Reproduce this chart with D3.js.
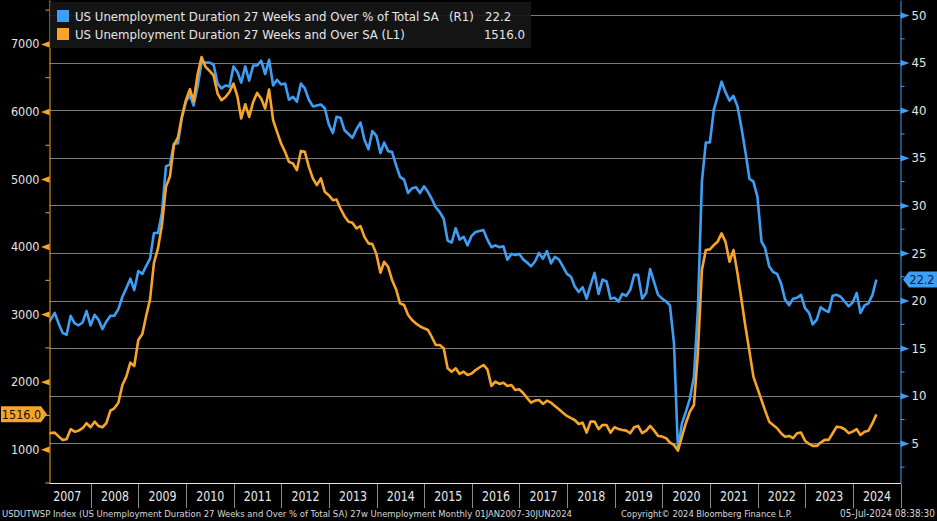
<!DOCTYPE html>
<html>
<head>
<meta charset="utf-8">
<script src="https://d3js.org/d3.v7.min.js"></script>
<style>
  body { margin: 0; background: #000; }
  svg { display: block; }
  text { font-family: "DejaVu Sans Condensed", "DejaVu Sans", sans-serif; }
</style>
</head>
<body>
<svg id="chart" width="937" height="521"></svg>
<script>
// monthly, Jan 2007 .. Jun 2024
var years = [2007, 2008, 2009, 2010, 2011, 2012, 2013, 2014, 2015, 2016, 2017, 2018, 2019, 2020, 2021, 2022, 2023, 2024];

// USDUTWSP - 27 weeks and over, % of total unemployed (right axis)
var pctOfTotal = [
  17.5, 18.0, 18.7, 17.6, 16.6, 16.4, 18.4, 17.6, 17.4, 17.7, 18.9, 17.4,
  18.5, 18.0, 17.0, 17.8, 18.4, 18.4, 19.1, 20.4, 21.3, 22.3, 21.1, 23.1,
  22.8, 23.6, 24.4, 27.1, 27.1, 29.2, 34.1, 34.3, 36.5, 36.5, 39.2, 40.9,
  41.6, 40.5, 42.5, 45.0, 45.0, 45.0, 44.8, 42.8, 42.3, 42.6, 42.5, 44.6,
  44.0, 42.9, 44.6, 43.1, 44.7, 44.7, 45.2, 43.8, 45.3, 42.6, 43.2, 42.7,
  42.8, 41.1, 41.4, 40.9, 42.8, 42.3, 41.1, 40.4, 40.5, 40.6, 40.2, 38.5,
  37.6, 39.3, 39.2, 37.9, 37.5, 37.1, 38.0, 38.7, 36.9, 35.9, 37.8, 37.3,
  35.5, 36.6, 35.7, 35.6, 34.2, 33.0, 32.7, 31.3, 31.8, 31.9, 31.3, 32.0,
  31.4, 30.7, 29.8, 29.3, 28.6, 26.3, 26.1, 27.6, 26.4, 26.7, 25.8, 26.8,
  27.2, 27.3, 27.4, 26.4, 25.6, 25.8, 25.6, 25.7, 24.3, 24.9, 24.8, 24.9,
  24.3, 24.0, 23.6, 24.1, 25.0, 24.4, 25.2, 23.9, 24.6, 24.3, 23.6, 22.8,
  22.5, 21.5, 20.9, 21.4, 20.2, 21.6, 22.9, 20.7, 22.2, 22.0, 20.2, 20.3,
  19.9, 20.7, 20.5, 21.1, 22.7, 22.7, 20.2, 20.8, 23.3, 21.9, 20.6, 20.2,
  19.9, 19.5, 15.5, 4.4, 7.1, 8.3, 9.7, 12.0, 19.0, 32.5, 36.6, 36.6,
  40.1, 41.4, 43.0, 41.9, 41.0, 41.5, 40.4, 38.1, 35.6, 32.8, 32.5, 30.9,
  26.2, 25.5, 23.6, 23.0, 22.8, 21.8, 20.1, 19.5, 20.2, 20.3, 20.6, 19.2,
  18.7, 17.5, 18.0, 19.3, 19.0, 18.8, 20.5, 20.6, 20.4, 19.9, 19.4, 19.8,
  20.8, 18.7, 19.5, 19.7, 20.6, 22.2
];

// 27 weeks and over, thousands (left axis)
var weeks27Over = [
  1225, 1240, 1246, 1190, 1138, 1148, 1296, 1260, 1275, 1311, 1385, 1325,
  1408, 1345, 1325, 1385, 1571, 1606, 1689, 1951, 2074, 2281, 2232, 2616,
  2705, 2961, 3218, 3760, 3973, 4317, 4884, 5042, 5501, 5615, 5920, 6166,
  6330, 6150, 6550, 6807, 6659, 6600, 6536, 6265, 6166, 6215, 6289, 6413,
  6215, 5896, 6107, 5919, 6141, 6274, 6191, 6043, 6324, 5870, 5697, 5526,
  5400, 5254, 5230, 5131, 5416, 5402, 5180, 5008, 4909, 5008, 4810, 4761,
  4687, 4697, 4560, 4450, 4366, 4351, 4269, 4303, 4144, 4047, 4036, 3888,
  3612, 3775, 3701, 3504, 3366, 3159, 3134, 2986, 2912, 2860, 2820, 2790,
  2764, 2665, 2543, 2543, 2494, 2198, 2148, 2198, 2114, 2148, 2099, 2120,
  2173, 2210, 2247, 2183, 1936, 2000, 1966, 1985, 1936, 1951, 1877, 1887,
  1828, 1760, 1689, 1719, 1729, 1670, 1719, 1689, 1640, 1591, 1541, 1493,
  1460, 1433, 1374, 1393, 1246, 1408, 1408, 1296, 1359, 1359, 1246, 1325,
  1300, 1285, 1275, 1237, 1325, 1345, 1237, 1275, 1345, 1275, 1197, 1187,
  1163, 1098, 1064, 979, 1187, 1385, 1556, 1655, 2420, 3652, 3948, 3958,
  4022, 4070, 4195, 4070, 3775, 3948, 3603, 3208, 2813, 2444, 2074, 1900,
  1729, 1571, 1408, 1359, 1311, 1237, 1186, 1197, 1163, 1237, 1246, 1127,
  1078, 1049, 1049, 1098, 1138, 1138, 1237, 1334, 1325, 1296, 1237, 1260,
  1296, 1211, 1260, 1275, 1385, 1516
];

var leftTicks = [1000, 2000, 3000, 4000, 5000, 6000, 7000];
var leftMinor = [500, 1500, 2500, 3500, 4500, 5500, 6500, 7500];
var rightTicks = [5, 10, 15, 20, 25, 30, 35, 40, 45, 50];
var rightMinor = [2.5, 7.5, 12.5, 17.5, 22.5, 27.5, 32.5, 37.5, 42.5, 47.5];

var legendPct = "US Unemployment Duration 27 Weeks and Over % of Total SA";
var legendCount = "US Unemployment Duration 27 Weeks and Over SA (L1)";
var footerLeft = "USDUTWSP Index (US Unemployment Duration 27 Weeks and Over % of Total SA) 27w Unemployment  Monthly 01JAN2007-30JUN2024";
var footerMid = "Copyright\u00a9 2024 Bloomberg Finance L.P.";
var footerRight = "05-Jul-2024 08:38:30";

var BLUE = "#3e9ef4", ORANGE = "#f8a42a";
var W = 937, H = 521;
var plotLeft = 49.5, plotRight = 900.5, plotTop = 0, plotBottom = 483;

var svg = d3.select("#chart");
svg.append("rect").attr("width", W).attr("height", H).attr("fill", "#000");

// points sit at month end
var dates = pctOfTotal.map(function(d, i) { return new Date(2007, i + 1, 0); });

var x = d3.scaleTime().domain([new Date(2007, 1, 19), new Date(2025, 0, 1)]).range([plotLeft, plotRight]);
var yL = d3.scaleLinear().domain([500, 7650]).range([plotBottom, plotTop]);
var yR = d3.scaleLinear().domain([0.83, 51.58]).range([plotBottom, plotTop]);

function fit(sel, w) {
  var n = sel.node().getComputedTextLength();
  var fs = parseFloat(sel.attr("font-size"));
  sel.attr("font-size", (fs * w / n).toFixed(2));
  return sel;
}

// grid (follows right axis)
svg.append("g").selectAll("line").data(rightTicks).join("line")
  .attr("x1", plotLeft).attr("x2", plotRight)
  .attr("y1", function(d) { return Math.round(yR(d)) + 0.5; })
  .attr("y2", function(d) { return Math.round(yR(d)) + 0.5; })
  .attr("stroke", "#7c7c7c").attr("stroke-width", 1);

// series
svg.append("clipPath").attr("id", "plot")
  .append("rect").attr("x", plotLeft).attr("y", plotTop)
  .attr("width", plotRight - plotLeft).attr("height", plotBottom - plotTop);

var linePct = d3.line().x(function(d, i) { return x(dates[i]); }).y(function(d) { return yR(d); });
var lineCount = d3.line().x(function(d, i) { return x(dates[i]); }).y(function(d) { return yL(d); });

var plot = svg.append("g").attr("clip-path", "url(#plot)");
plot.append("path").datum(pctOfTotal).attr("d", linePct)
  .attr("fill", "none").attr("stroke", BLUE).attr("stroke-width", 2.6).attr("stroke-linejoin", "round");
plot.append("path").datum(weeks27Over).attr("d", lineCount)
  .attr("fill", "none").attr("stroke", ORANGE).attr("stroke-width", 2.6).attr("stroke-linejoin", "round");

// left axis
var gL = svg.append("g").attr("transform", "translate(" + plotLeft + ",0)")
  .call(d3.axisLeft(yL).tickValues(leftTicks).tickSize(0).tickSizeOuter(0).tickPadding(10).tickFormat(d3.format("d")));
gL.select(".domain").attr("stroke", ORANGE);
gL.selectAll(".tick text").attr("fill", "#e4e4e4").attr("font-size", 12.5)
  .attr("font-family", "DejaVu Sans Condensed, DejaVu Sans, sans-serif");
gL.selectAll(".tick").append("path").attr("d", "M-8.5,0L0,-3.2L0,3.2Z").attr("fill", ORANGE);
gL.selectAll(".minor").data(leftMinor).join("line").attr("class", "minor")
  .attr("x1", -4).attr("x2", 0)
  .attr("y1", function(d) { return yL(d); }).attr("y2", function(d) { return yL(d); })
  .attr("stroke", ORANGE);

// right axis
var gR = svg.append("g").attr("transform", "translate(" + plotRight + ",0)")
  .call(d3.axisRight(yR).tickValues(rightTicks).tickSize(0).tickSizeOuter(0).tickPadding(11).tickFormat(d3.format("d")));
gR.select(".domain").attr("stroke", BLUE);
gR.selectAll(".tick text").attr("fill", "#e4e4e4").attr("font-size", 13)
  .attr("font-family", "DejaVu Sans Condensed, DejaVu Sans, sans-serif");
gR.selectAll(".tick").append("path").attr("d", "M9,0L0,-3.2L0,3.2Z").attr("fill", BLUE);
gR.selectAll(".minor").data(rightMinor).join("line").attr("class", "minor")
  .attr("x1", 0).attr("x2", 4)
  .attr("y1", function(d) { return yR(d); }).attr("y2", function(d) { return yR(d); })
  .attr("stroke", BLUE);

// bottom: base line, year separators, year labels
svg.append("line").attr("x1", plotLeft).attr("x2", plotRight + 0.5)
  .attr("y1", plotBottom + 0.5).attr("y2", plotBottom + 0.5).attr("stroke", "#e8e8e8");

var seps = years.slice(1).concat([2025]).map(function(y) { return new Date(y, 0, 1); });
svg.append("g").selectAll("line").data(seps).join("line")
  .attr("x1", function(d) { return Math.round(x(d)) + 0.5; })
  .attr("x2", function(d) { return Math.round(x(d)) + 0.5; })
  .attr("y1", plotBottom + 1).attr("y2", 508)
  .attr("stroke", "#8a8a8a");

var gX = svg.append("g").attr("transform", "translate(0," + plotBottom + ")")
  .call(d3.axisBottom(x).tickValues(years.map(function(y) { return new Date(y, 6, 1); }))
    .tickSize(0).tickSizeOuter(0).tickFormat(d3.timeFormat("%Y")));
gX.select(".domain").remove();
gX.selectAll(".tick text").attr("y", 18).attr("dy", 0)
  .attr("fill", "#e8e8e8").attr("font-size", 14.5)
  .attr("font-family", "DejaVu Sans Condensed, DejaVu Sans, sans-serif")
  .attr("textLength", 28).attr("lengthAdjust", "spacingAndGlyphs");

// legend box
var lg = svg.append("g");
lg.append("rect").attr("x", 50).attr("y", 2).attr("width", 481).attr("height", 46)
  .attr("fill", "#161616").attr("fill-opacity", 0.9);
lg.append("rect").attr("x", 57).attr("y", 10).attr("width", 12).attr("height", 12).attr("fill", BLUE);
lg.append("rect").attr("x", 57).attr("y", 28).attr("width", 12).attr("height", 12).attr("fill", ORANGE);
var t1 = fit(lg.append("text").attr("x", 75).attr("y", 21).attr("font-size", 14).attr("fill", "#e6e6e6").text(legendPct), 364);
var lfs = t1.attr("font-size");
lg.append("text").attr("x", 449).attr("y", 21).attr("font-size", lfs).attr("fill", "#e6e6e6").text("(R1)");
lg.append("text").attr("x", 485).attr("y", 21).attr("font-size", lfs).attr("fill", "#e6e6e6")
  .text(d3.format(".1f")(pctOfTotal[pctOfTotal.length - 1]));
lg.append("text").attr("x", 75).attr("y", 39).attr("font-size", lfs).attr("fill", "#e6e6e6").text(legendCount);
lg.append("text").attr("x", 525).attr("y", 39).attr("font-size", lfs).attr("fill", "#e6e6e6")
  .attr("text-anchor", "end").text(d3.format(".1f")(weeks27Over[weeks27Over.length - 1]));

// last value badges
var lastCount = weeks27Over[weeks27Over.length - 1];
var yb = yL(lastCount);
svg.append("path")
  .attr("d", "M1," + (yb - 8) + "H41L47," + yb + "L41," + (yb + 8) + "H1Z")
  .attr("fill", ORANGE);
svg.append("text").attr("x", 21.5).attr("y", yb + 4.5).attr("text-anchor", "middle")
  .attr("font-size", 12.5).attr("fill", "#111").text(d3.format(".1f")(lastCount));

var lastPct = pctOfTotal[pctOfTotal.length - 1];
var yr = yR(lastPct);
svg.append("path")
  .attr("d", "M903," + yr + "L909," + (yr - 8) + "H937V" + (yr + 8) + "H909Z")
  .attr("fill", BLUE);
svg.append("text").attr("x", 922).attr("y", yr + 4.5).attr("text-anchor", "middle")
  .attr("font-size", 12.5).attr("fill", "#0b1f38").text(d3.format(".1f")(lastPct));

// footer
fit(svg.append("text").attr("x", 2).attr("y", 517).attr("font-size", 10).attr("fill", "#d8d8d8").text(footerLeft), 570);
fit(svg.append("text").attr("x", 621).attr("y", 517).attr("font-size", 10).attr("fill", "#d8d8d8").text(footerMid), 171);
fit(svg.append("text").attr("x", 935).attr("y", 517).attr("font-size", 10).attr("fill", "#d8d8d8")
  .attr("text-anchor", "end").text(footerRight), 95);
</script>
</body>
</html>
